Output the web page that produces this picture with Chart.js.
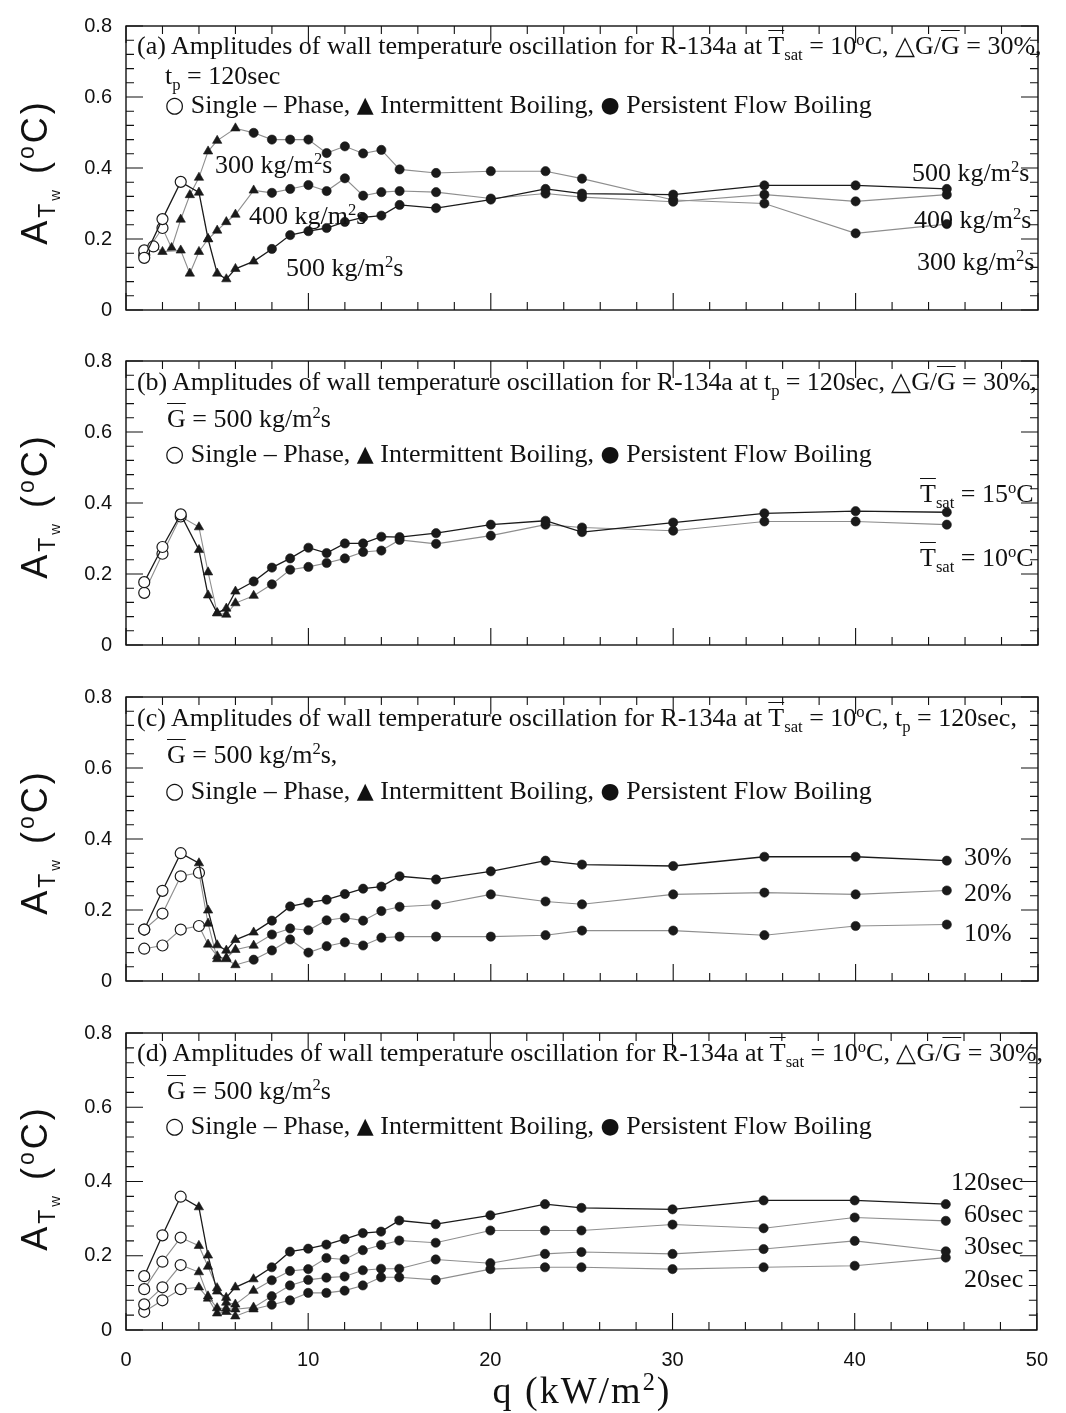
<!DOCTYPE html>
<html><head><meta charset="utf-8">
<script src="https://cdn.jsdelivr.net/npm/chart.js@4.4.1/dist/chart.umd.min.js"></script>
<style>
body{margin:0;background:#fff;width:1066px;height:1413px;position:relative;overflow:hidden}
canvas{position:absolute;left:0}
.t{position:absolute;font-family:'Liberation Serif','Times New Roman',serif;font-size:26px;color:#111;white-space:nowrap;line-height:1;transform:translateY(-50%)}
.t sub,.t sup,.yt sub,.yt sup,.xt sup{font-size:64%;line-height:0;position:relative;vertical-align:baseline}
.t sup,.yt sup,.xt sup{top:-0.55em}
.t sub,.yt sub{bottom:-0.35em}
.ol{text-decoration:overline;text-decoration-thickness:1.4px}
.sym{font-family:'DejaVu Sans',sans-serif;font-size:22px;position:relative;top:-1px}
.yt{position:absolute;font-family:'Liberation Sans',Arial,sans-serif;font-size:36px;letter-spacing:3px;color:#111;white-space:nowrap;line-height:1;transform:translate(-50%,-50%) rotate(-90deg)}
.xt{position:absolute;font-family:'Liberation Serif','Times New Roman',serif;font-size:38px;letter-spacing:2px;color:#111;white-space:nowrap;line-height:1;transform:translate(-50%,-50%)}
</style></head><body>
<canvas id="cA"></canvas><canvas id="cB"></canvas><canvas id="cC"></canvas><canvas id="cD"></canvas>
<script>
// ---------- DATA ----------
const qStd = [1,2,3,4,4.5,5,5.5,6,7,8,9,10,11,12,13,14,15,17,20,23,25,30,35,40,45];
const yTickLabels = ['0','0.2','0.4','0.6','0.8'];
const xTickLabels = ['0','10','20','30','40','50'];

// (a) mass flux effect
const qA300 = [1,2,2.5,3,3.5,4,4.5,5,6,7,8,9,10,11,12,13,14,15,17,20,23,25,30,35,40,45];
const ampA300 = [0.155,0.231,0.175,0.255,0.324,0.373,0.447,0.477,0.512,0.499,0.48,0.48,0.48,0.442,0.461,0.441,0.451,0.396,0.386,0.391,0.391,0.37,0.31,0.30,0.216,0.242];
const qA400 = [1,1.5,2,3,3.5,4,4.5,5,5.5,6,7,8,9,10,11,12,13,14,15,17,20,23,25,30,35,40,45];
const ampA400 = [0.168,0.179,0.164,0.168,0.103,0.164,0.20,0.224,0.248,0.269,0.337,0.33,0.341,0.352,0.335,0.371,0.322,0.332,0.335,0.332,0.314,0.328,0.318,0.305,0.325,0.306,0.325];
const ampA500 = [0.147,0.256,0.361,0.331,0.20,0.103,0.087,0.116,0.137,0.172,0.211,0.222,0.231,0.248,0.261,0.266,0.296,0.287,0.311,0.341,0.328,0.325,0.351,0.351,0.341];

// (b) saturation temperature effect
const ampB15 = [0.177,0.276,0.368,0.268,0.14,0.09,0.103,0.151,0.179,0.218,0.244,0.274,0.259,0.286,0.286,0.305,0.304,0.315,0.339,0.35,0.318,0.345,0.371,0.377,0.374];
const ampB10 = [0.147,0.257,0.362,0.332,0.205,0.09,0.086,0.118,0.139,0.171,0.212,0.22,0.231,0.244,0.262,0.266,0.296,0.285,0.308,0.339,0.331,0.322,0.348,0.348,0.339];

// (c) amplitude of mass flux oscillation effect
const ampC30 = [0.145,0.254,0.36,0.332,0.199,0.101,0.086,0.116,0.137,0.17,0.21,0.221,0.229,0.245,0.26,0.266,0.295,0.286,0.309,0.339,0.328,0.324,0.35,0.35,0.339];
const ampC20 = [0.145,0.19,0.295,0.305,0.162,0.062,0.065,0.088,0.10,0.131,0.148,0.143,0.171,0.178,0.17,0.197,0.209,0.215,0.244,0.224,0.216,0.244,0.249,0.244,0.255];
const ampC10 = [0.091,0.10,0.145,0.155,0.103,0.07,0.062,0.045,0.06,0.086,0.117,0.08,0.098,0.109,0.10,0.122,0.125,0.125,0.125,0.129,0.142,0.142,0.129,0.155,0.159];

// (d) period effect
const ampD120 = [0.145,0.255,0.359,0.331,0.201,0.104,0.087,0.115,0.137,0.169,0.211,0.219,0.23,0.245,0.261,0.265,0.295,0.285,0.309,0.339,0.329,0.325,0.349,0.349,0.339];
const ampD60 = [0.11,0.184,0.249,0.227,0.171,0.113,0.074,0.069,0.106,0.134,0.159,0.164,0.194,0.19,0.215,0.229,0.241,0.235,0.268,0.268,0.268,0.284,0.274,0.303,0.294];
const ampD30 = [0.069,0.115,0.175,0.156,0.091,0.059,0.058,0.056,0.061,0.091,0.12,0.135,0.141,0.144,0.161,0.165,0.165,0.19,0.18,0.205,0.21,0.205,0.218,0.24,0.212];
const ampD20 = [0.049,0.08,0.11,0.115,0.085,0.045,0.049,0.037,0.056,0.068,0.08,0.10,0.10,0.106,0.12,0.142,0.142,0.135,0.164,0.169,0.169,0.164,0.169,0.173,0.195];

// boiling regime onsets: [intermittent boiling from q, persistent flow boiling from q]
const regA300 = [2.5,7], regA400 = [2,8], regA500 = [4,8];
const regB15 = [4,7], regB10 = [4,8];
const regC30 = [4,8], regC20 = [4.5,8], regC10 = [4.5,7];
const regD = [4,8];

// ---------- STYLE ----------
const BLACK = '#1b1b1b', GRAY = '#8e8e8e';
const PLOT_LEFT = 126, PLOT_RIGHT_PAD = 28, PLOT_TOP = 15, PLOT_H = 308;

function regime(reg, x){ return x < reg[0] ? 0 : (x < reg[1] ? 1 : 2); }
function ds(q, a, reg, dark){
  return {
    data: q.map((x,i)=>({x:x, y:a[i]})),
    showLine:true, tension:0, fill:false,
    borderColor: dark ? BLACK : GRAY, borderWidth: dark ? 1.3 : 1.1,
    pointStyle: c => (c.raw && regime(reg,c.raw.x)===1) ? 'triangle' : 'circle',
    pointRadius: c => { const r = c.raw ? regime(reg,c.raw.x) : 2; return r===0 ? 5.5 : (r===1 ? 5.4 : 4.6); },
    pointBackgroundColor: c => (c.raw && regime(reg,c.raw.x)===0) ? '#ffffff' : '#1a1a1a',
    pointBorderColor: '#1a1a1a',
    pointBorderWidth: c => (c.raw && regime(reg,c.raw.x)===0) ? 1.2 : 0.6
  };
}

const framePlugin = {
  id:'frame',
  afterDraw(chart){
    const {ctx, chartArea:a} = chart; const x = chart.scales.x, y = chart.scales.y;
    ctx.save(); ctx.strokeStyle='#111';
    ctx.lineWidth=1.4; ctx.strokeRect(a.left, a.top, a.right-a.left, a.bottom-a.top);
    ctx.lineWidth=1.1; ctx.beginPath();
    for (let k=0;k<=25;k++){ const px=x.getPixelForValue(k*2); const L=(k%5===0)?17:8;
      ctx.moveTo(px,a.bottom); ctx.lineTo(px,a.bottom-L); ctx.moveTo(px,a.top); ctx.lineTo(px,a.top+L); }
    for (let k=0;k<=20;k++){ const py=y.getPixelForValue(k*0.04); const L=(k%5===0)?17:8;
      ctx.moveTo(a.left,py); ctx.lineTo(a.left+L,py); ctx.moveTo(a.right,py); ctx.lineTo(a.right-L,py); }
    ctx.stroke(); ctx.restore();
  }
};

function makeChart(id, top, height, datasets, showX){
  const cv = document.getElementById(id);
  cv.style.top = top+'px'; cv.width = 1066; cv.height = height;
  cv.style.width='1066px'; cv.style.height=height+'px';
  const xH = showX ? 48 : 0;
  return new Chart(cv, {
    type:'line',
    data:{datasets:datasets},
    options:{
      responsive:false, animation:false, devicePixelRatio:1,
      layout:{padding:{left:0,right:PLOT_RIGHT_PAD,top:PLOT_TOP,bottom:height-PLOT_TOP-PLOT_H-xH}},
      plugins:{legend:{display:false},tooltip:{enabled:false}},
      scales:{
        x:{type:'linear',min:0,max:50,display:showX,
           grid:{display:false,drawTicks:false},border:{display:false},
           ticks:{stepSize:10,padding:18,color:'#111',font:{family:"'Liberation Sans',Arial,sans-serif",size:20},
                  callback:(v)=>xTickLabels[Math.round(v/10)]},
           afterFit:(s)=>{s.height=xH;}},
        y:{type:'linear',min:0,max:0.8,
           grid:{display:false,drawTicks:false},border:{display:false},
           ticks:{stepSize:0.2,padding:14,color:'#111',font:{family:"'Liberation Sans',Arial,sans-serif",size:20},
                  callback:(v)=>yTickLabels[Math.round(v/0.2)]},
           afterFit:(s)=>{s.width=PLOT_LEFT;}}
      }
    },
    plugins:[framePlugin]
  });
}

makeChart('cA', 0, 336, [
  ds(qStd, ampA500, regA500, true),
  ds(qA400, ampA400, regA400, false),
  ds(qA300, ampA300, regA300, false)
], false);
makeChart('cB', 335, 336, [
  ds(qStd, ampB15, regB15, true),
  ds(qStd, ampB10, regB10, false)
], false);
makeChart('cC', 671, 336, [
  ds(qStd, ampC30, regC30, true),
  ds(qStd, ampC20, regC20, false),
  ds(qStd, ampC10, regC10, false)
], false);
makeChart('cD', 1007, 406, [
  ds(qStd, ampD120, regD, true),
  ds(qStd, ampD60, regD, false),
  ds(qStd, ampD30, regD, false),
  ds(qStd, ampD20, regD, false)
], true);
</script>

<!-- panel (a) texts -->
<div class="t" style="left:137px;top:46px">(a) Amplitudes of wall temperature oscillation for R-134a at <span class="ol">T</span><sub>sat</sub> = 10<sup>o</sup>C, △G/<span class="ol">G</span> = 30%,</div>
<div class="t" style="left:165px;top:76px">t<sub>p</sub> = 120sec</div>
<div class="t" style="left:165px;top:105px"><span class="sym">○</span> Single – Phase, <span class="sym">▲</span> Intermittent Boiling, <span class="sym">●</span> Persistent Flow Boiling</div>
<div class="t" style="left:215px;top:165px">300 kg/m<sup>2</sup>s</div>
<div class="t" style="left:249px;top:216px">400 kg/m<sup>2</sup>s</div>
<div class="t" style="left:286px;top:268px">500 kg/m<sup>2</sup>s</div>
<div class="t" style="left:912px;top:173px">500 kg/m<sup>2</sup>s</div>
<div class="t" style="left:914px;top:220px">400 kg/m<sup>2</sup>s</div>
<div class="t" style="left:917px;top:262px">300 kg/m<sup>2</sup>s</div>

<!-- panel (b) texts -->
<div class="t" style="left:137px;top:382px;letter-spacing:-0.1px">(b) Amplitudes of wall temperature oscillation for R-134a at t<sub>p</sub> = 120sec, △G/<span class="ol">G</span> = 30%,</div>
<div class="t" style="left:167px;top:419px"><span class="ol">G</span> = 500 kg/m<sup>2</sup>s</div>
<div class="t" style="left:165px;top:454px"><span class="sym">○</span> Single – Phase, <span class="sym">▲</span> Intermittent Boiling, <span class="sym">●</span> Persistent Flow Boiling</div>
<div class="t" style="left:920px;top:494px"><span class="ol">T</span><sub>sat</sub> = 15<sup>o</sup>C</div>
<div class="t" style="left:920px;top:558px"><span class="ol">T</span><sub>sat</sub> = 10<sup>o</sup>C</div>

<!-- panel (c) texts -->
<div class="t" style="left:137px;top:718px">(c) Amplitudes of wall temperature oscillation for R-134a at <span class="ol">T</span><sub>sat</sub> = 10<sup>o</sup>C, t<sub>p</sub> = 120sec,</div>
<div class="t" style="left:167px;top:755px"><span class="ol">G</span> = 500 kg/m<sup>2</sup>s,</div>
<div class="t" style="left:165px;top:791px"><span class="sym">○</span> Single – Phase, <span class="sym">▲</span> Intermittent Boiling, <span class="sym">●</span> Persistent Flow Boiling</div>
<div class="t" style="left:964px;top:857px">30%</div>
<div class="t" style="left:964px;top:893px">20%</div>
<div class="t" style="left:964px;top:933px">10%</div>

<!-- panel (d) texts -->
<div class="t" style="left:137px;top:1053px">(d) Amplitudes of wall temperature oscillation for R-134a at <span class="ol">T</span><sub>sat</sub> = 10<sup>o</sup>C, △G/<span class="ol">G</span> = 30%,</div>
<div class="t" style="left:167px;top:1091px"><span class="ol">G</span> = 500 kg/m<sup>2</sup>s</div>
<div class="t" style="left:165px;top:1126px"><span class="sym">○</span> Single – Phase, <span class="sym">▲</span> Intermittent Boiling, <span class="sym">●</span> Persistent Flow Boiling</div>
<div class="t" style="left:951px;top:1182px">120sec</div>
<div class="t" style="left:964px;top:1214px">60sec</div>
<div class="t" style="left:964px;top:1246px">30sec</div>
<div class="t" style="left:964px;top:1279px">20sec</div>

<!-- axis titles -->
<div class="yt" style="left:35px;top:172px">A<sub>T<sub>w</sub></sub> (<sup>o</sup>C)</div>
<div class="yt" style="left:35px;top:506px">A<sub>T<sub>w</sub></sub> (<sup>o</sup>C)</div>
<div class="yt" style="left:35px;top:842px">A<sub>T<sub>w</sub></sub> (<sup>o</sup>C)</div>
<div class="yt" style="left:35px;top:1178px">A<sub>T<sub>w</sub></sub> (<sup>o</sup>C)</div>
<div class="xt" style="left:582px;top:1390px">q (kW/m<sup>2</sup>)</div>
</body></html>
